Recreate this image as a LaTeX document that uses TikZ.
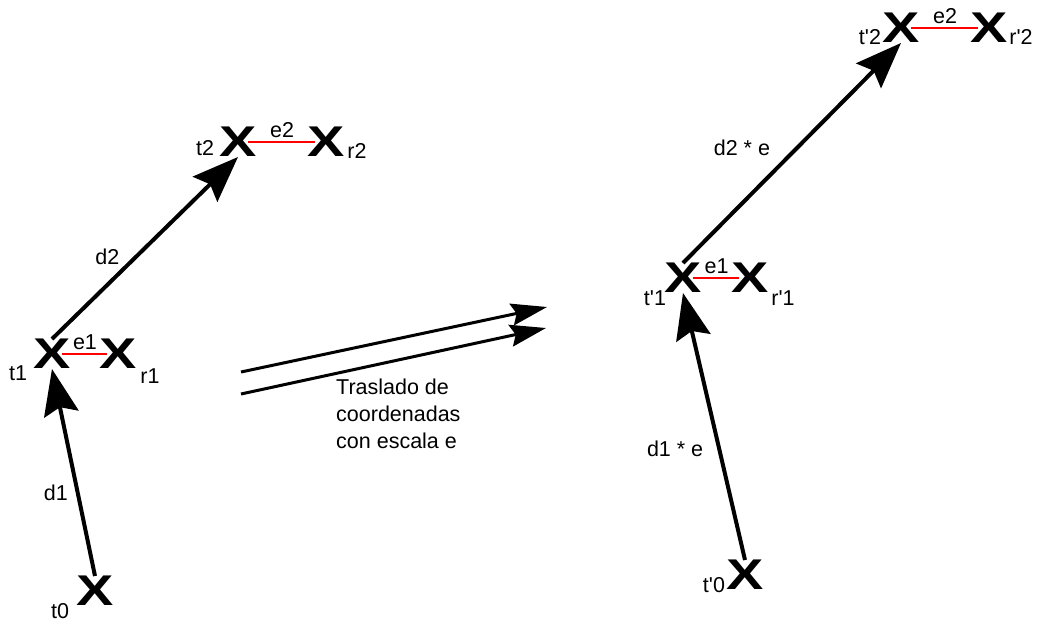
\documentclass[tikz,border=0pt]{standalone}
\usepackage{fontspec}
\setmainfont{Liberation Sans}
\usepackage{graphicx}
\usepackage{tikz}
\usetikzlibrary{arrows.meta, positioning}
\definecolor{exred}{RGB}{255,0,0}
\newcommand{\cruz}{\scalebox{1.3}[1]{X}}
\newcommand{\pr}{\textquotesingle}

\begin{document}
\begin{tikzpicture}[
    x=1pt, y=-1pt,
    font=\fontsize{21.5}{27}\selectfont,
    cross/.style={inner sep=0pt, font=\fontsize{43}{43}\selectfont\bfseries},
    lbl/.style={inner sep=0pt},
    arr/.style={-{Stealth[length=46pt, width=35pt, inset=7pt]}, line width=4pt},
    movarr/.style={-{Stealth[length=36pt, width=22pt, inset=5pt]}, line width=3pt},
    link/.style={draw=exred, line width=2.5pt, shorten <=10pt, shorten >=11pt},
]
\useasboundingbox (0,0) rectangle (1038,624);

% --- LEFT: original points ---
\node[cross] (t0) at (95,591) {\cruz};
\node[cross] (t1) at (52,354) {\cruz};
\node[cross] (r1) at (118,354) {\cruz};
\node[cross] (t2) at (238,142) {\cruz};
\node[cross] (r2) at (326,142) {\cruz};

\node[lbl] (t0l) at (60,611) {t0};
\node[lbl] (t1l) at (18,373) {t1};
\node[lbl] (r1l) at (150,376) {r1};
\node[lbl] (t2l) at (205,148) {t2};
\node[lbl] (r2l) at (357,151) {r2};

\draw[link] (t1.center) -- node[lbl, above=3pt]{e1} (r1.center);
\draw[link] (t2.center) -- node[lbl, above=3pt]{e2} (r2.center);

\draw[arr] (t0.north) -- node[lbl, pos=0.4, left=8pt]{d1} (t1.south);
\draw[arr] (t1.north) -- node[lbl, pos=0.453, left=15pt]{d2} (t2.south);

% --- MIDDLE: translation ---
\coordinate (mvA) at (241,372);
\coordinate (mvAend) at (547,307);
\coordinate (mvB) at (241,394);
\coordinate (mvBend) at (546,328);
\draw[movarr] (mvA) -- (mvAend);
\draw[movarr] (mvB) -- (mvBend);
\node[lbl, anchor=north west, align=left] (tras) at (336,379) {Traslado de\\coordenadas\\con escala e};

% --- RIGHT: scaled points ---
\node[cross] (tp0) at (745,575) {\cruz};
\node[cross] (tp1) at (683,278) {\cruz};
\node[cross] (rp1) at (750,278) {\cruz};
\node[cross] (tp2) at (901,28) {\cruz};
\node[cross] (rp2) at (989,28) {\cruz};

\node[lbl] (tp0l) at (714,585) {t\pr0};
\node[lbl] (tp1l) at (655,298) {t\pr1};
\node[lbl] (rp1l) at (783,298) {r\pr1};
\node[lbl] (tp2l) at (870,37) {t\pr2};
\node[lbl] (rp2l) at (1021,37) {r\pr2};

\draw[link] (tp1.center) -- node[lbl, above=3pt]{e1} (rp1.center);
\draw[link] (tp2.center) -- node[lbl, above=3pt]{e2} (rp2.center);

\draw[arr] (tp0.north) -- node[lbl, pos=0.416, left=14pt]{d1 * e} (tp1.south);
\draw[arr] (tp1.north) -- node[lbl, pos=0.523, left=25pt]{d2 * e} (tp2.south);
\end{tikzpicture}
\end{document}
